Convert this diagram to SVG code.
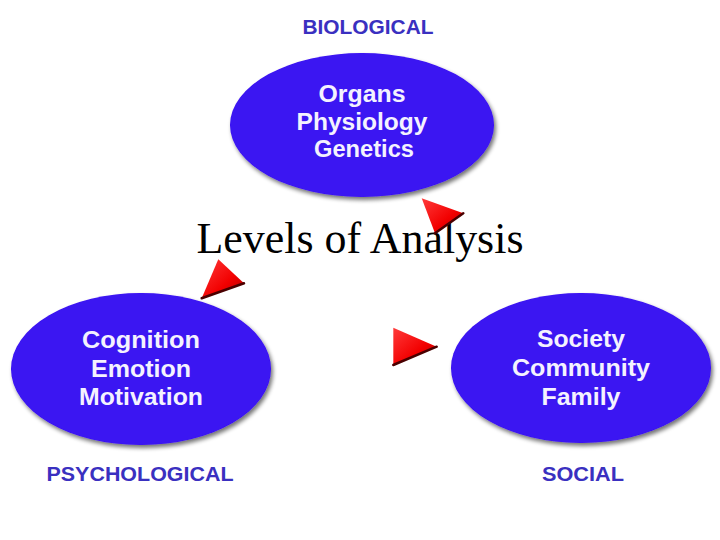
<svg xmlns="http://www.w3.org/2000/svg" width="720" height="540" viewBox="0 0 720 540">
<defs>
  <filter id="shadow" x="-10%" y="-10%" width="125%" height="130%">
    <feGaussianBlur in="SourceAlpha" stdDeviation="2"/>
    <feOffset dx="2" dy="3" result="b"/>
    <feComponentTransfer><feFuncA type="linear" slope="0.55"/></feComponentTransfer>
    <feMerge><feMergeNode/><feMergeNode in="SourceGraphic"/></feMerge>
  </filter>
  <linearGradient id="red" x1="0" y1="0" x2="1" y2="1">
    <stop offset="0" stop-color="#ff3a3a"/>
    <stop offset="0.6" stop-color="#f20000"/>
    <stop offset="1" stop-color="#b00000"/>
  </linearGradient>
  <style>
    .blob { fill: #3a12f2; filter: url(#shadow); }
    .inner { font-family: "Liberation Sans", Arial, sans-serif; font-weight: bold; font-size: 23px; fill: #f4f2ff; text-anchor: middle; }
    .label { font-family: "Liberation Sans", Arial, sans-serif; font-weight: bold; font-size: 21px; fill: #3a30c0; text-anchor: middle; }
    .title { font-family: "Liberation Serif", "Times New Roman", serif; font-size: 44px; fill: #000; text-anchor: middle; }
    .arrow { fill: url(#red); }
    .edge { fill: none; stroke: #4a0000; stroke-width: 2.5; stroke-linecap: round; }
  </style>
</defs>
<rect width="720" height="540" fill="#ffffff"/>

<g id="biological">
  <ellipse class="blob" cx="362" cy="125" rx="132" ry="72"/>
  <text class="inner" x="362" y="102" textLength="87" lengthAdjust="spacingAndGlyphs">Organs</text>
  <text class="inner" x="362" y="130" textLength="131" lengthAdjust="spacingAndGlyphs">Physiology</text>
  <text class="inner" x="364" y="157" textLength="100" lengthAdjust="spacingAndGlyphs">Genetics</text>
  <text class="label" x="368" y="34" textLength="131" lengthAdjust="spacingAndGlyphs">BIOLOGICAL</text>
</g>

<g id="psychological">
  <ellipse class="blob" cx="141" cy="369" rx="130" ry="76"/>
  <text class="inner" x="141" y="348" textLength="118" lengthAdjust="spacingAndGlyphs">Cognition</text>
  <text class="inner" x="141" y="377" textLength="100" lengthAdjust="spacingAndGlyphs">Emotion</text>
  <text class="inner" x="141" y="405" textLength="124" lengthAdjust="spacingAndGlyphs">Motivation</text>
  <text class="label" x="140" y="481" textLength="187" lengthAdjust="spacingAndGlyphs">PSYCHOLOGICAL</text>
</g>

<g id="social">
  <ellipse class="blob" cx="581" cy="368" rx="130" ry="75"/>
  <text class="inner" x="581" y="347" textLength="88" lengthAdjust="spacingAndGlyphs">Society</text>
  <text class="inner" x="581" y="376" textLength="138" lengthAdjust="spacingAndGlyphs">Community</text>
  <text class="inner" x="581" y="405" textLength="79" lengthAdjust="spacingAndGlyphs">Family</text>
  <text class="label" x="583" y="481" textLength="82" lengthAdjust="spacingAndGlyphs">SOCIAL</text>
</g>

<text class="title" x="360" y="253" textLength="327" lengthAdjust="spacingAndGlyphs">Levels of Analysis</text>

<g id="connectors">
  <polygon class="arrow" points="421.7,198.3 463.3,213.3 435,233.3"/>
  <polyline class="edge" points="463.3,213.3 435,233.3"/>
  <polygon class="arrow" points="218.3,259.3 244,283.3 201.7,298.3"/>
  <polyline class="edge" points="244,283.3 201.7,298.3"/>
  <polygon class="arrow" points="393.3,327.7 436.7,346.7 393.3,365"/>
  <polyline class="edge" points="436.7,346.7 393.3,365"/>
</g>
</svg>
